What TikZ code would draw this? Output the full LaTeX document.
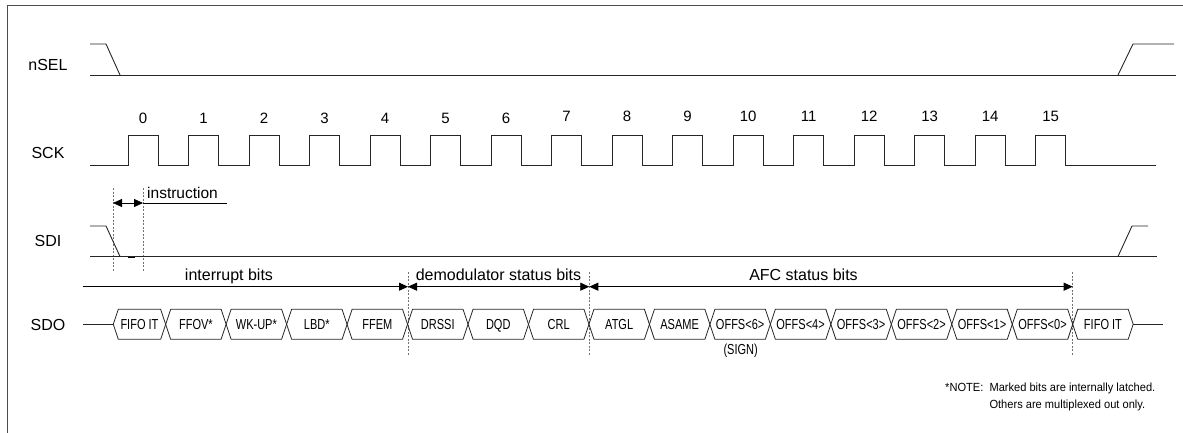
\documentclass[tikz,border=0pt]{standalone}
\usepackage{fontspec}
\setmainfont{Liberation Sans}
\newfontfamily\narrowfont[FakeStretch=0.76]{Liberation Sans}
\newfontfamily\notefont[FakeStretch=0.94]{Liberation Sans}
\usetikzlibrary{arrows.meta}

\begin{document}
\begin{tikzpicture}[x=1pt,y=-1pt,
    wave/.style={black!85,line width=0.9pt},
    marker/.style={black!55,line width=0.6pt,dash pattern=on 2pt off 1.5pt},
    dim/.style={black,line width=0.8pt},
    >={Triangle[length=9pt,width=8pt]},
    signame/.style={font=\fontsize{16}{19}\selectfont,anchor=base,inner sep=0pt},
    clknum/.style={font=\fontsize{15}{18}\selectfont,anchor=base,inner sep=0pt},
    section/.style={font=\fontsize{16}{19}\selectfont,anchor=base,inner sep=0pt},
    bitname/.style={font=\narrowfont\fontsize{14.5}{17}\selectfont,anchor=base,inner sep=0pt},
    notetext/.style={font=\notefont\fontsize{11.8}{14}\selectfont,anchor=base west,inner sep=0pt}]
    \useasboundingbox (0,0) rectangle (1183,433);

    % Frame
    \draw[black!70,line width=0.8pt] (1183,5) -- (7.5,5) -- (7.5,433);

    % nSEL
    \node[signame] (nsel) at (48,70.7) {nSEL};
    \draw[wave] (90,44) -- (106,44) -- (120,75);
    \draw[wave] (90,75) -- (1176,75);
    \draw[wave] (1118,75) -- (1133,44) -- (1174,44);

    % SCK with bit numbers
    \node[signame] (sck) at (48,158.3) {SCK};
    \draw[wave] (90,165) foreach \k in {0,...,15} { -- ({128+60.5*\k},165) -- ++(0,-30) -- ++(30.25,0) -- ++(0,30) } -- (1156,165);
    \foreach \k in {0,...,15} {
        \pgfmathsetmacro\ny{\k<7 ? 123.5 : 121.5}
        \node[clknum] (n\k) at ({143.1+60.5*\k},\ny) {\k};
    }

    % Instruction window
    \coordinate (ia) at (113,203);
    \coordinate (ib) at (143,203);
    \coordinate (ic) at (227,203);
    \draw[marker] (113,188) -- (113,271);
    \draw[marker] (143,188) -- (143,271);
    \draw[dim,<->] (ia) -- (ib);
    \draw[dim] (ib) -- (ic);
    \node[section,font=\fontsize{15.5}{18}\selectfont,anchor=base west] (instr) at (147,198) {instruction};

    % SDI
    \node[signame] (sdi) at (48,246.7) {SDI};
    \draw[wave] (90,226) -- (106,226) -- (120,256.5);
    \draw[wave] (90,256.5) -- (1157,256.5);
    \draw[black,line width=1.3pt] (128,257.3) -- (135,257.3);
    \draw[wave] (1118,256.5) -- (1132,226) -- (1148,226);

    % Status groups
    \coordinate (b0) at (82.7,286.7);
    \coordinate (b1) at (408,286.7);
    \coordinate (b2) at (589.3,286.7);
    \coordinate (b3) at (1072.7,286.7);
    \foreach \x in {408,589.3,1072.7}
        \draw[marker] (\x,272) -- (\x,356);
    \draw[dim,->] (b0) -- (b1);
    \draw[dim,<->] (b1) -- (b2);
    \draw[dim,<->] (b2) -- (b3);
    \node[section] (intbits) at (229,280.5) {interrupt bits};
    \node[section] (demodbits) at (498.5,280) {demodulator status bits};
    \node[section] (afcbits) at (803.5,280) {AFC status bits};

    % SDO
    \node[signame] (sdo) at (48,330) {SDO};
    \draw[wave] (83,324.3) -- (113.3,324.3);
    \foreach \lbl [count=\i from 0] in {FIFO IT,FFOV*,WK-UP*,LBD*,FFEM,DRSSI,DQD,CRL,ATGL,ASAME,OFFS<6>,OFFS<4>,OFFS<3>,OFFS<2>,OFFS<1>,OFFS<0>,FIFO IT} {
        \pgfmathsetmacro\xa{\i==0 ? 113.3 : 105.2+60.47*\i}
        \pgfmathsetmacro\xb{105.2+60.47*(\i+1)}
        \draw[wave,line width=0.8pt] (\xa,324.3) -- (\xa+5,309.3) -- (\xb-5,309.3) -- (\xb,324.3) -- (\xb-5,339.3) -- (\xa+5,339.3) -- cycle;
        \node[bitname] (bit\i) at ({(\xa+\xb)/2},329.6) {\lbl};
    }
    \draw[wave] (1133.2,324.3) -- (1163,324.3);
    \node[bitname] (sign) at (740.7,354.5) {(SIGN)};

    % Note
    \node[notetext] (note1) at (945,391) {*NOTE:};
    \node[notetext] (note2) at (989.3,391) {Marked bits are internally latched.};
    \node[notetext] (note3) at ([yshift=-17.3pt]note2.base west) {Others are multiplexed out only.};
\end{tikzpicture}
\end{document}
